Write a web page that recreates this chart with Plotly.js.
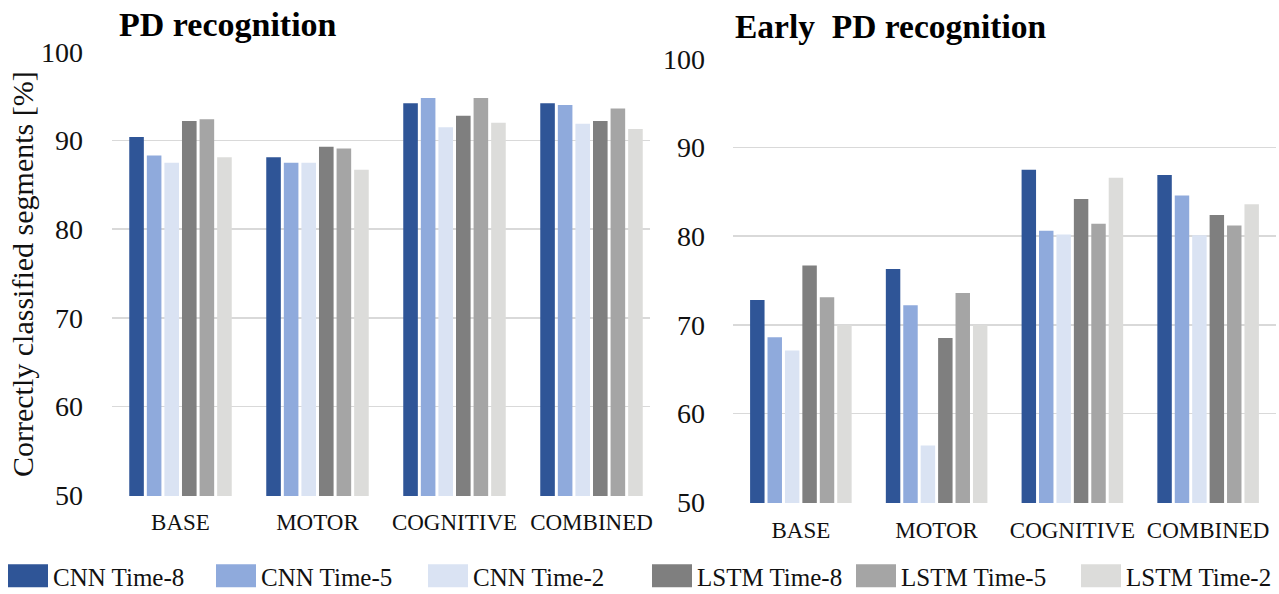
<!DOCTYPE html>
<html>
<head>
<meta charset="utf-8">
<script src="https://cdn.plot.ly/plotly-3.0.1.min.js"></script>
<style>
  html, body { margin: 0; padding: 0; background: #ffffff; }
  #chart { width: 1279px; height: 594px; }
</style>
</head>
<body>
<div id="chart"></div>
<script>
// Feature sets on the category axis
const categories = ['BASE', 'MOTOR', 'COGNITIVE', 'COMBINED'];

// Model configurations (legend order)
const seriesNames = ['CNN Time-8', 'CNN Time-5', 'CNN Time-2', 'LSTM Time-8', 'LSTM Time-5', 'LSTM Time-2'];
const seriesColors = ['#2F5597', '#8FAADC', '#DAE3F3', '#7F7F7F', '#A5A5A5', '#DCDCDA'];

// PD recognition: correctly classified segments [%]
const pdCnnTime8  = [90.4, 88.1, 94.2, 94.2];
const pdCnnTime5  = [88.3, 87.5, 94.8, 94.0];
const pdCnnTime2  = [87.5, 87.5, 91.5, 91.9];
const pdLstmTime8 = [92.2, 89.3, 92.8, 92.2];
const pdLstmTime5 = [92.4, 89.1, 94.8, 93.6];
const pdLstmTime2 = [88.1, 86.7, 92.0, 91.3];

// Early PD recognition: correctly classified segments [%]
const earlyCnnTime8  = [72.8, 76.3, 87.5, 86.9];
const earlyCnnTime5  = [68.6, 72.2, 80.6, 84.6];
const earlyCnnTime2  = [67.1, 56.4, 80.2, 80.1];
const earlyLstmTime8 = [76.7, 68.5, 84.2, 82.4];
const earlyLstmTime5 = [73.1, 73.6, 81.4, 81.2];
const earlyLstmTime2 = [70.0, 70.0, 86.6, 83.6];

const yTickValues = [50, 60, 70, 80, 90, 100];

const pdSeries = [pdCnnTime8, pdCnnTime5, pdCnnTime2, pdLstmTime8, pdLstmTime5, pdLstmTime2];
const earlySeries = [earlyCnnTime8, earlyCnnTime5, earlyCnnTime2, earlyLstmTime8, earlyLstmTime5, earlyLstmTime2];

const FONT = 'Liberation Serif, Times New Roman, serif';
const W = 1279, H = 594;

// width of each legend entry's text slot, in px
const legendSlotWidths = [153, 157, 169, 149, 170, 140];

const traces = [];
pdSeries.forEach((vals, i) => {
  traces.push({
    type: 'bar', x: categories, y: vals, name: seriesNames[i],
    marker: { color: seriesColors[i] }, xaxis: 'x', yaxis: 'y',
    legendgroup: seriesNames[i], showlegend: true, legendwidth: legendSlotWidths[i],
    hoverinfo: 'name+y'
  });
});
earlySeries.forEach((vals, i) => {
  traces.push({
    type: 'bar', x: categories, y: vals, name: seriesNames[i],
    marker: { color: seriesColors[i] }, xaxis: 'x2', yaxis: 'y2',
    legendgroup: seriesNames[i], showlegend: false, hoverinfo: 'name+y'
  });
});

// plot areas in pixels: [left, right, top, bottom]
const leftBox = [112, 650, 51, 496];
const rightBox = [733, 1276, 58, 503];
const xDom = b => [b[0] / W, b[1] / W];
const yDom = b => [(H - b[3]) / H, (H - b[2]) / H];

const yAxisBase = {
  range: [49.9, 100.1], tickvals: yTickValues, ticktext: yTickValues.map(String),
  showgrid: true, gridcolor: '#D9D9D9', gridwidth: 1.6,
  zeroline: false, showline: false, ticks: '',
  tickfont: { family: FONT, size: 28, color: '#111111' },
  fixedrange: true
};
const xAxisBase = {
  type: 'category', showgrid: false, zeroline: false, showline: false, ticks: '',
  tickfont: { family: FONT, size: 23, color: '#111111' },
  fixedrange: true
};

const layout = {
  width: W, height: H,
  margin: { l: 0, r: 0, t: 0, b: 0, pad: 0 },
  paper_bgcolor: '#ffffff', plot_bgcolor: '#ffffff',
  barmode: 'group', bargap: 0.23, bargroupgap: 0.17,
  font: { family: FONT, color: '#111111' },
  xaxis: Object.assign({}, xAxisBase, { domain: xDom(leftBox), anchor: 'y', range: [-0.5, 3.427], ticklabelstandoff: 10 }),
  yaxis: Object.assign({}, yAxisBase, { domain: yDom(leftBox), anchor: 'x', ticklabelstandoff: 28 }),
  xaxis2: Object.assign({}, xAxisBase, { domain: xDom(rightBox), anchor: 'y2', range: [-0.5, 3.5], ticklabelstandoff: 11 }),
  yaxis2: Object.assign({}, yAxisBase, { domain: yDom(rightBox), anchor: 'x2', ticklabelstandoff: 27 }),
  showlegend: true,
  legend: {
    orientation: 'h', x: 0.0, xanchor: 'left', y: 0, yanchor: 'bottom',
    font: { family: FONT, size: 25, color: '#111111' },
    itemwidth: 40, traceorder: 'normal', bgcolor: 'rgba(0,0,0,0)',
    itemclick: false, itemdoubleclick: false
  },
  annotations: [
    {
      text: '<b>PD recognition</b>', xref: 'paper', yref: 'paper',
      x: 117 / W, xanchor: 'left', y: 1 - 4 / H, yanchor: 'top', showarrow: false,
      font: { family: FONT, size: 34, color: '#000000' }
    },
    {
      text: '<b>Early\u00a0 PD recognition</b>', xref: 'paper', yref: 'paper',
      x: 733 / W, xanchor: 'left', y: 1 - 6 / H, yanchor: 'top', showarrow: false,
      font: { family: FONT, size: 33.5, color: '#000000' }
    },
    {
      text: 'Correctly classified segments [%]', xref: 'paper', yref: 'paper',
      x: 22 / W, xanchor: 'center', y: (H - 274) / H, yanchor: 'middle',
      textangle: -90, showarrow: false,
      font: { family: FONT, size: 30, color: '#111111' }
    }
  ]
};

Plotly.newPlot('chart', traces, layout, { displayModeBar: false, staticPlot: true }).then(gd => {
  // enlarge the legend swatches into wide filled rectangles
  gd.querySelectorAll('.legend .legendpoints path').forEach(p => {
    p.setAttribute('d', 'M20,11.5H-20V-11.5H20Z');
    p.style.strokeWidth = '0px';
  });
  // let the last entry's text run to the right edge instead of being clipped
  gd.querySelectorAll('.legend .scrollbox').forEach(s => s.removeAttribute('clip-path'));
  // nudge the legend row slightly right and down, flush with the bottom edge
  const leg = gd.querySelector('g.legend');
  if (leg) {
    const m = /translate\(\s*([-\d.]+)[ ,]+([-\d.]+)\s*\)/.exec(leg.getAttribute('transform') || '');
    if (m) leg.setAttribute('transform', 'translate(' + (parseFloat(m[1]) + 3) + ',' + (parseFloat(m[2]) + 5) + ')');
  }
});
</script>
</body>
</html>
